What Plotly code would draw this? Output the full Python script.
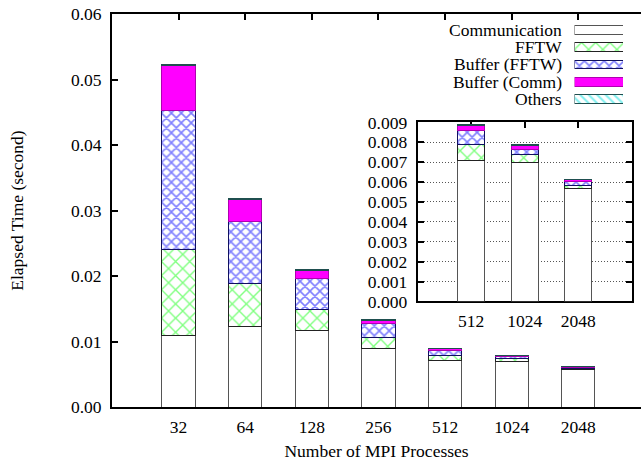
import plotly.graph_objects as go

# data (seconds)
procs = ["32", "64", "128", "256", "512", "1024", "2048"]
series = ["Communication", "FFTW", "Buffer (FFTW)", "Buffer (Comm)", "Others"]
communication = [0.0109, 0.0123, 0.01165, 0.0090, 0.00708, 0.00699, 0.00568]
fftw = [0.0131, 0.00657, 0.00321, 0.00163, 0.00082, 0.00040, 0.00016]
buffer_fftw = [0.02123, 0.00947, 0.00474, 0.00209, 0.00069, 0.00027, 0.00020]
buffer_comm = [0.0069, 0.0034, 0.0013, 0.0005, 0.00027, 0.00018, 0.00008]
others = [0.0001, 0.0001, 0.0001, 0.0001, 0.00004, 0.00003, 0.00003]
main_ticks = [0.00, 0.01, 0.02, 0.03, 0.04, 0.05, 0.06]
inset_ticks = [0.000, 0.001, 0.002, 0.003, 0.004, 0.005, 0.006, 0.007, 0.008, 0.009]
INSET_FROM = 4  # inset shows 512, 1024, 2048

values = [communication, fftw, buffer_fftw, buffer_comm, others]

FONT = "Liberation Serif"
FS = 17.5
W, H = 641, 466
L, R, T, B = 112, 0, 14.3, 58.7
PW, PH = W - L - R, H - T - B


def px_x(x):
    return (x - L) / PW


def px_y(y):
    return (H - B - y) / PH


STYLES = {
    "Communication": dict(color="white", line=dict(color="#555555", width=1)),
    "FFTW": dict(color="white", line=dict(color="#222222", width=1),
                 pattern=dict(shape="x", fgcolor="#00ff00", size=10, solidity=0.25)),
    "Buffer (FFTW)": dict(color="white", line=dict(color="#101060", width=1),
                          pattern=dict(shape="x", fgcolor="#0000ff", size=7, solidity=0.4)),
    "Buffer (Comm)": dict(color="#ff00ff", line=dict(color="#b000b0", width=1)),
    "Others": dict(color="white", line=dict(color="#1f4f4f", width=1),
                   pattern=dict(shape="\\", fgcolor="#00e0e0", size=6, solidity=0.35)),
}

fig = go.Figure()

for name, v in zip(series, values):
    fig.add_trace(go.Bar(x=procs, y=v, name=name, marker=STYLES[name],
                         showlegend=False, xaxis="x", yaxis="y"))
    fig.add_trace(go.Bar(x=procs[INSET_FROM:], y=v[INSET_FROM:], name=name,
                         marker=STYLES[name], showlegend=False,
                         xaxis="x2", yaxis="y2"))
    # legend key
    fig.add_trace(go.Bar(x=[1], y=[name], orientation="h", marker=STYLES[name],
                         showlegend=False, hoverinfo="skip",
                         xaxis="x3", yaxis="y3"))

axis_common = dict(showline=True, linecolor="black", linewidth=2,
                   ticks="inside", ticklen=6, tickwidth=1.5, tickcolor="black",
                   showgrid=False, zeroline=False, layer="below traces",
                   tickfont=dict(family=FONT, size=FS, color="black"))

main_xmax = -1 + PW / ((578 - 178.3) / 6)

fig.update_layout(
    width=W, height=H,
    margin=dict(l=L, r=R, t=T, b=B),
    paper_bgcolor="white", plot_bgcolor="white",
    barmode="stack", bargap=0.5,
    font=dict(family=FONT, size=FS, color="black"),
    xaxis=dict(axis_common, type="category", range=[-1, main_xmax],
               mirror="ticks", anchor="y", domain=[0, 1],
               ticklabelstandoff=3,
               title=dict(text="Number of MPI Processes", standoff=9,
                          font=dict(family=FONT, size=FS))),
    yaxis=dict(axis_common, range=[0, 0.06], tickvals=main_ticks,
               tickformat=".2f", anchor="x", domain=[0, 1],
               ticklabelstandoff=5),
    xaxis2=dict(axis_common, type="category", range=[-1, 3], mirror="ticks",
                anchor="y2", domain=[px_x(417.7), px_x(631.6)],
                ticklabelstandoff=3),
    yaxis2=dict(axis_common, range=[0, 0.009], tickvals=inset_ticks,
                tickformat=".3f", mirror="ticks", anchor="x2",
                domain=[px_y(301.7), px_y(122.7)],
                showgrid=True, gridcolor="#555555", gridwidth=1,
                griddash="1px,2px", ticklabelstandoff=5),
    xaxis3=dict(range=[0, 1], visible=False, anchor="y3",
                domain=[px_x(574.5), px_x(623)], fixedrange=True),
    yaxis3=dict(type="category", categoryorder="array", categoryarray=series,
                autorange="reversed", visible=False, anchor="x3",
                domain=[px_y(108), px_y(21.5)], fixedrange=True),
)

row_h = (108 - 21.5) / len(series)
for i, name in enumerate(series):
    fig.add_annotation(text=name, xref="paper", yref="paper",
                       x=px_x(564), y=px_y(21.5 + row_h * (i + 0.5)),
                       xanchor="right", yanchor="middle", showarrow=False,
                       font=dict(family=FONT, size=FS, color="black"))

fig.add_annotation(text="Elapsed Time (second)", xref="paper", yref="paper",
                   x=px_x(17), y=px_y(211), textangle=-90,
                   xanchor="center", yanchor="middle", showarrow=False,
                   font=dict(family=FONT, size=FS, color="black"))

fig.write_html("out.html", config={"displayModeBar": False},
               post_script="document.body.style.margin='0';")
